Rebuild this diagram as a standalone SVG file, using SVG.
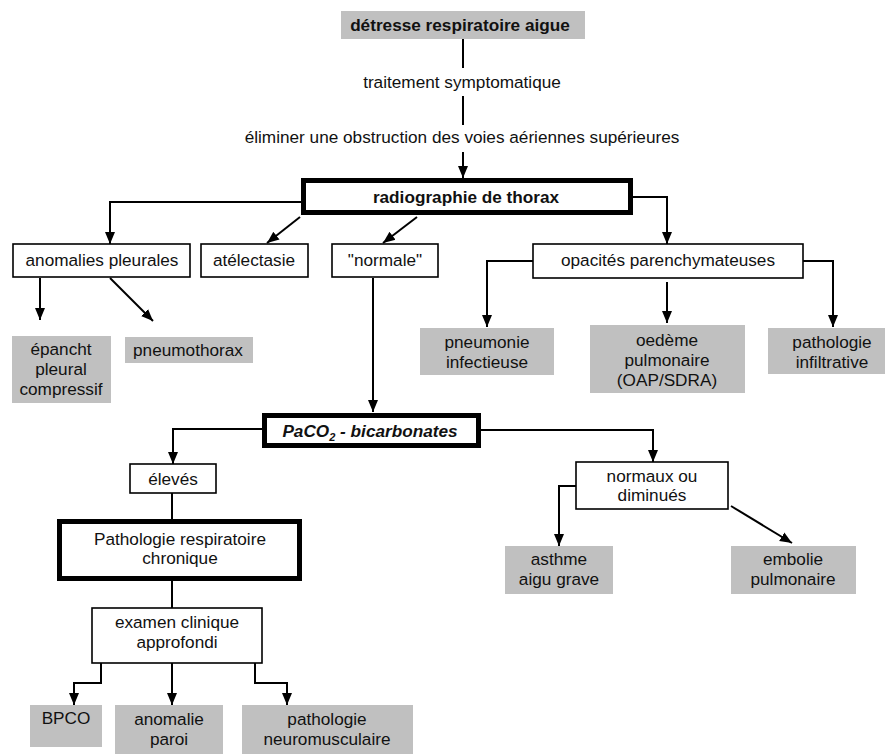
<svg xmlns="http://www.w3.org/2000/svg" width="887" height="754" viewBox="0 0 887 754">
<defs>
<marker id="arr" markerUnits="userSpaceOnUse" markerWidth="13" markerHeight="13" viewBox="0 0 13 13" refX="12" refY="6.5" orient="auto">
<path d="M0,1.5 L12,6.5 L0,11.5 Z" fill="#000"/>
</marker>
<style>
text{font-family:"Liberation Sans",Arial,sans-serif;font-size:17.2px;fill:#111;text-anchor:middle}
.b{font-weight:bold}
.bi{font-weight:bold;font-style:italic}
.box{fill:#fff;stroke:#000;stroke-width:1.6}
.thick{fill:#fff;stroke:#000;stroke-width:5}
.gray{fill:#c0c0c0}
.c{fill:none;stroke:#000;stroke-width:2}
.a{fill:none;stroke:#000;stroke-width:2;marker-end:url(#arr)}
</style>
</defs>
<g id="connectors">
<path class="c" d="M463,39 V68"/>
<path class="c" d="M463,96 V125"/>
<path class="a" d="M463,152 V178"/>
<path class="a" d="M301,202 H110 V244"/>
<path class="a" d="M300,217 L267,243"/>
<path class="a" d="M417,217 L383,243"/>
<path class="a" d="M633,197 H667 V244"/>
<path class="a" d="M40,278 V320"/>
<path class="a" d="M110,278 L153,321"/>
<path class="a" d="M533,261 H487 V327"/>
<path class="a" d="M667,282 V323"/>
<path class="a" d="M803,261 H833 V327"/>
<path class="a" d="M373,278 V412"/>
<path class="a" d="M262,429 H173 V464"/>
<path class="a" d="M481,430 H653 V462"/>
<path class="c" d="M172,493 V520"/>
<path class="c" d="M172,581 V608"/>
<path class="a" d="M576,486 H559 V546"/>
<path class="a" d="M731,506 L792,543"/>
<path class="a" d="M101,663 V683 H74 V705"/>
<path class="a" d="M172,663 V705"/>
<path class="a" d="M255,663 V683 H287 V705"/>
</g>
<g id="n-detresse"><rect class="gray" x="341" y="11" width="244" height="28"/><text class="b" x="460" y="31">détresse respiratoire aigue</text></g>
<g id="n-traitement"><text x="462" y="88">traitement symptomatique</text></g>
<g id="n-eliminer"><text x="462" y="143">éliminer une obstruction des voies aériennes supérieures</text></g>
<g id="n-radio"><rect class="thick" x="303.5" y="180.5" width="327" height="32"/><text class="b" x="466" y="203">radiographie de thorax</text></g>
<g id="n-anomalies"><rect class="box" x="13" y="244" width="177" height="33"/><text x="102" y="266">anomalies pleurales</text></g>
<g id="n-atelectasie"><rect class="box" x="201" y="244" width="107" height="33"/><text x="254" y="266">atélectasie</text></g>
<g id="n-normale"><rect class="box" x="332" y="244" width="106" height="33"/><text x="385" y="266">"normale"</text></g>
<g id="n-opacites"><rect class="box" x="533" y="244" width="270" height="34"/><text x="668" y="266">opacités parenchymateuses</text></g>
<g id="n-epancht"><rect class="gray" x="12" y="336" width="99" height="67"/><text x="61" y="355">épancht</text><text x="61" y="375">pleural</text><text x="61" y="395">compressif</text></g>
<g id="n-pneumothorax"><rect class="gray" x="125" y="337" width="128" height="26"/><text x="188" y="356">pneumothorax</text></g>
<g id="n-pneumonie"><rect class="gray" x="420" y="328" width="134" height="47"/><text x="487" y="348">pneumonie</text><text x="487" y="368">infectieuse</text></g>
<g id="n-oedeme"><rect class="gray" x="590" y="325" width="155" height="68"/><text x="667" y="346">oedème</text><text x="667" y="366">pulmonaire</text><text x="667" y="386">(OAP/SDRA)</text></g>
<g id="n-infiltrative"><rect class="gray" x="768" y="328" width="117" height="46"/><text x="832" y="348">pathologie</text><text x="832" y="368">infiltrative</text></g>
<g id="n-paco2"><rect class="thick" x="264.5" y="415.5" width="214" height="30"/><text class="bi" x="370" y="437">PaCO<tspan dy="4" style="font-size:11px">2</tspan><tspan dy="-4"> - bicarbonates</tspan></text></g>
<g id="n-eleves"><rect class="box" x="130" y="464" width="86" height="29"/><text x="173" y="485">élevés</text></g>
<g id="n-normaux"><rect class="box" x="576" y="462" width="152" height="47"/><text x="652" y="482">normaux ou</text><text x="652" y="501">diminués</text></g>
<g id="n-patho-chron"><rect class="thick" x="59.5" y="521.5" width="240" height="57"/><text x="180" y="545">Pathologie respiratoire</text><text x="180" y="564">chronique</text></g>
<g id="n-examen"><rect class="box" x="92" y="608" width="170" height="55"/><text x="177" y="628">examen clinique</text><text x="177" y="648">approfondi</text></g>
<g id="n-asthme"><rect class="gray" x="505" y="546" width="108" height="48"/><text x="559" y="565">asthme</text><text x="559" y="585">aigu grave</text></g>
<g id="n-embolie"><rect class="gray" x="731" y="546" width="125" height="48"/><text x="793" y="565">embolie</text><text x="793" y="585">pulmonaire</text></g>
<g id="n-bpco"><rect class="gray" x="30" y="705" width="72" height="42"/><text x="66" y="724">BPCO</text></g>
<g id="n-paroi"><rect class="gray" x="115" y="705" width="108" height="49"/><text x="169" y="725">anomalie</text><text x="169" y="745">paroi</text></g>
<g id="n-neuro"><rect class="gray" x="242" y="705" width="171" height="49"/><text x="327" y="725">pathologie</text><text x="327" y="745">neuromusculaire</text></g>
</svg>
